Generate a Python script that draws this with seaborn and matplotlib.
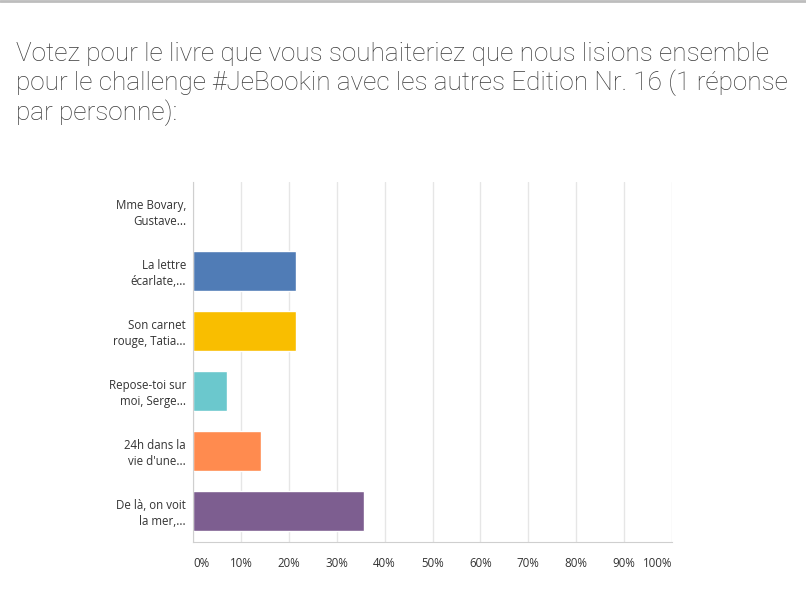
import matplotlib
matplotlib.use('Agg')
import matplotlib.pyplot as plt
import pandas as pd
import seaborn as sns
from matplotlib.lines import Line2D
from matplotlib.ticker import FuncFormatter

titre = ("Votez pour le livre que vous souhaiteriez que nous lisions ensemble\n"
         "pour le challenge #JeBookin avec les autres Edition Nr. 16 (1 réponse\n"
         "par personne):")

livres = ["Mme Bovary,\nGustave...", "La lettre\nécarlate,...", "Son carnet\nrouge, Tatia...",
          "Repose-toi sur\nmoi, Serge...", "24h dans la\nvie d'une...", "De là, on voit\nla mer,..."]
reponses = [0.0, 21.43, 21.43, 7.14, 14.29, 35.71]
couleurs = ["#507cb6", "#507cb6", "#f9be00", "#6bc8cd", "#ff8b4f", "#7d5e90"]
graduations = list(range(0, 101, 10))

df = pd.DataFrame({'livre': livres, 'pct': reponses})

sns.set_style('white')
plt.rcParams['font.family'] = ['Open Sans', 'DejaVu Sans']

fig = plt.figure(figsize=(8.06, 6.15), dpi=100)
ax = fig.add_axes([0.2395, 0.1187, 0.5943, 0.5853])

sns.barplot(data=df, x='pct', y='livre', hue='livre', palette=couleurs,
            orient='h', width=0.667, legend=False, ax=ax, saturation=1)

ax.set_xlim(0, 100)
ax.set_ylim(5.52, -0.48)
ax.set_xticks(graduations)
ax.xaxis.set_major_formatter(FuncFormatter(lambda v, p: f"{int(v)}%"))
ax.grid(axis='x', color='#e6e6e6', linewidth=1)
ax.set_axisbelow(True)
ax.set_xlabel('')
ax.set_ylabel('')

for s in ['top', 'right']:
    ax.spines[s].set_visible(False)
ax.spines['left'].set_color('#cfcfcf')
ax.spines['bottom'].set_color('#cfcfcf')
ax.tick_params(axis='both', length=0, labelsize=8.3, colors='#333333')
ax.tick_params(axis='x', pad=11)
ax.tick_params(axis='y', pad=5)

xlabs = ax.get_xticklabels()
xlabs[0].set_ha('left')
xlabs[-1].set_ha('right')
for t in ax.get_yticklabels():
    t.set_linespacing(1.25)

fig.text(0.02, 0.932, titre, fontsize=18.8, color='#3a3a3a', va='top', ha='left',
         family=['Roboto', 'DejaVu Sans'], fontweight='light', linespacing=1.17)

fig.add_artist(Line2D([0, 1], [0.998, 0.998], transform=fig.transFigure,
                      color='#bdbdbd', linewidth=2))

fig.savefig('out.png', dpi=100)
